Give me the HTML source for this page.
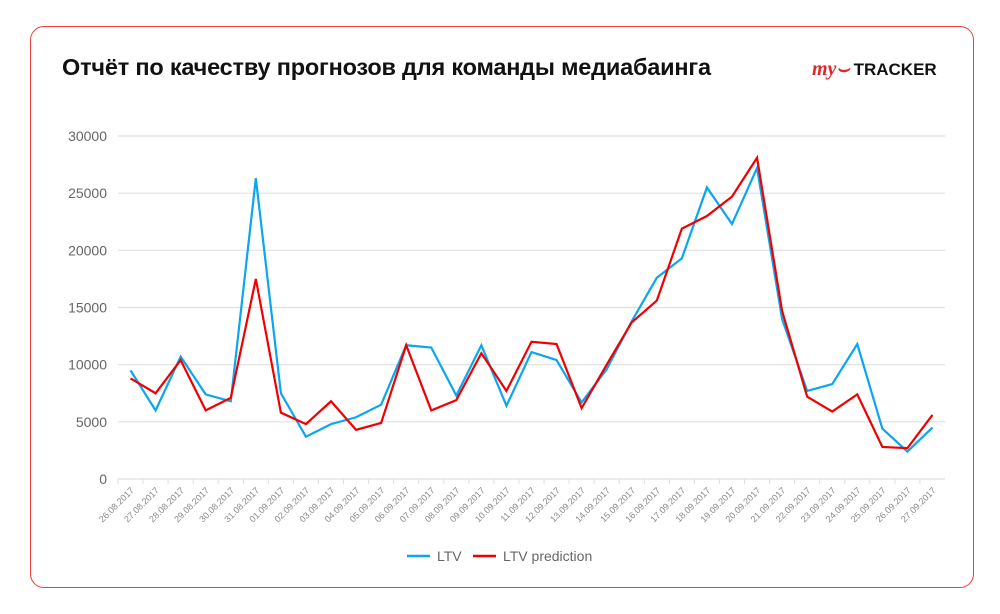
<!DOCTYPE html>
<html><head><meta charset="utf-8"><style>
body{margin:0;width:1000px;height:614px;background:#fff;font-family:"Liberation Sans","Noto Sans CJK SC",sans-serif;overflow:hidden}
#card{position:absolute;left:30px;top:26px;width:944px;height:562px;border:1px solid #f03c3c;border-radius:14px;box-sizing:border-box}
#title{position:absolute;left:62px;top:54px;font-size:23.5px;font-weight:bold;color:#111;letter-spacing:-0.2px}
#logo{position:absolute;left:812px;top:58px;font-size:17px;font-weight:bold}
</style></head><body>
<div id="card"></div>
<div id="title">Отчёт по качеству прогнозов для команды медиабаинга</div>
<div id="logo"><span style="color:#e3262b;font-style:italic;font-family:'Liberation Serif',serif;font-size:20px">my⌣</span><span style="color:#111;margin-left:4px">TRACKER</span></div>
<svg id="chart" width="1000" height="614" style="position:absolute;left:0;top:0"></svg>
<script>
const categories=["26.08.2017","27.08.2017","28.08.2017","29.08.2017","30.08.2017","31.08.2017","01.09.2017","02.09.2017","03.09.2017","04.09.2017","05.09.2017","06.09.2017","07.09.2017","08.09.2017","09.09.2017","10.09.2017","11.09.2017","12.09.2017","13.09.2017","14.09.2017","15.09.2017","16.09.2017","17.09.2017","18.09.2017","19.09.2017","20.09.2017","21.09.2017","22.09.2017","23.09.2017","24.09.2017","25.09.2017","26.09.2017","27.09.2017"];
const ltv=[9500,6000,10700,7400,6800,26300,7500,3700,4800,5400,6500,11700,11500,7300,11700,6400,11100,10400,6700,9600,13800,17600,19300,25500,22300,27200,14000,7700,8300,11800,4400,2400,4500];
const ltvPred=[8800,7500,10400,6000,7100,17500,5800,4800,6800,4300,4900,11700,6000,6900,11000,7700,12000,11800,6200,10000,13700,15600,21900,23000,24700,28100,14700,7200,5900,7400,2800,2700,5600];
const yTicks=[0,5000,10000,15000,20000,25000,30000];
const svg=document.getElementById('chart'),NS='http://www.w3.org/2000/svg';
const L=118,R=945,T=136,B=479,band=(R-L)/categories.length;
const x=i=>L+band*(i+0.5), y=v=>B-(v/30000)*(B-T);
function mk(t,a){const e=document.createElementNS(NS,t);for(const k in a)e.setAttribute(k,a[k]);svg.appendChild(e);return e;}
yTicks.forEach(v=>{
 const g=mk('line',{x1:L,x2:R,y1:y(v),y2:y(v),stroke:'#e0e0e0','stroke-width':1.2});
 
 
 const t=mk('text',{x:107,y:y(v)+5,'text-anchor':'end','font-size':14,fill:'#666'});t.textContent=v;
 
 
});
categories.forEach((c,i)=>{
 const tk=mk('line',{x1:L+band*i,x2:L+band*i,y1:B,y2:B+5,stroke:'#ddd'});
 
 
 const t=mk('text',{x:x(i)+4,y:B+12,'text-anchor':'end','font-size':9,fill:'#888',transform:`rotate(-45 ${x(i)+4} ${B+12})`});t.textContent=c;
 
 
});
function line(d,col,name){const p=mk('polyline',{points:d.map((v,i)=>x(i)+','+y(v)).join(' '),fill:'none',stroke:col,'stroke-width':2.2,'stroke-linejoin':'miter'});
 
 }
line(ltv,'#0aa6ef','ltv-line');
line(ltvPred,'#f00000','ltv-prediction-line');
const l1=mk('line',{x1:407,x2:430,y1:556,y2:556,stroke:'#0aa6ef','stroke-width':2.5});


const t1=mk('text',{x:437,y:561,'font-size':14,fill:'#666'});t1.textContent='LTV';


const l2=mk('line',{x1:473,x2:496,y1:556,y2:556,stroke:'#f00000','stroke-width':2.5});


const t2=mk('text',{x:503,y:561,'font-size':14,fill:'#666'});t2.textContent='LTV prediction';


</script>
</body></html>
